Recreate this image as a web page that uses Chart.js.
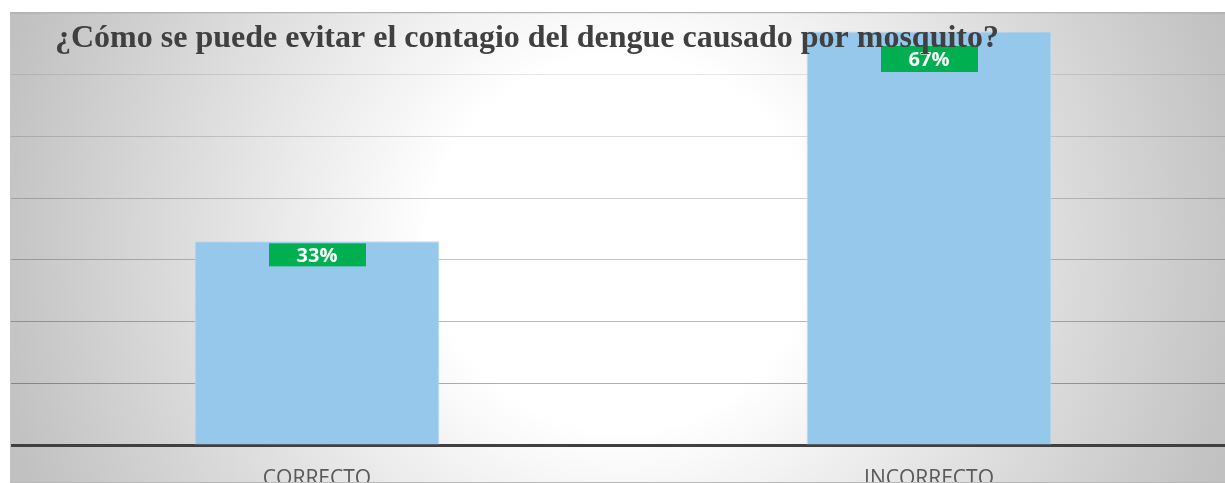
<!DOCTYPE html>
<html lang="es">
<head>
<meta charset="utf-8">
<title>Contagio del dengue</title>
<script src="https://cdn.jsdelivr.net/npm/chart.js@4/dist/chart.umd.min.js"></script>
<style>
  html, body { margin: 0; padding: 0; background: #fff; overflow: hidden; }
  body { width: 1225px; height: 483px; position: relative; }
  #frame {
    position: absolute; left: 10px; top: 12px; width: 1240px; height: 469px;
    border-top: 1px solid #b4b4b4; border-left: 1px solid #c4c4c4; border-bottom: 1px solid #b8b8b8;
    overflow: hidden;
    background: radial-gradient(ellipse 640px 620px at 610px 230px, #ffffff 0%, #ffffff 30%, #e2e2e2 62%, #c1c1c1 100%);
  }
  #chart { position: absolute; left: 0; top: 0; }
</style>
</head>
<body>
<div id="frame"><canvas id="chart" width="1224" height="492"></canvas></div>
<script>
(function () {
  "use strict";

  var TITLE = "¿Cómo se puede evitar el contagio del dengue causado por mosquito?";
  var categories = ["CORRECTO", "INCORRECTO"];
  var shares = [0.33, 0.67];
  var yTicks = [0, 0.1, 0.2, 0.3, 0.4, 0.5, 0.6, 0.7];

  function pct(v) {
    return Math.round(v * 100) + "%";
  }

  // green value tags sitting at the top of each bar
  // (the tall bar's tag is pushed down a bit so it clears the title)
  var valueTags = {
    id: "valueTags",
    afterDatasetsDraw: function (chart) {
      var ctx = chart.ctx;
      var meta = chart.getDatasetMeta(0);
      ctx.save();
      ctx.font = "bold 20px 'Open Sans', sans-serif";
      ctx.textAlign = "center";
      ctx.textBaseline = "middle";
      meta.data.forEach(function (bar, i) {
        var txt = pct(shares[i]);
        var w = ctx.measureText(txt).width + 56;
        var h = i === 1 ? 26 : 23;
        var top = bar.y + 2;
        if (top < 45) top = 33;
        ctx.fillStyle = "#00b050";
        ctx.fillRect(Math.round(bar.x - w / 2), top, Math.round(w), h);
        ctx.fillStyle = "#ffffff";
        ctx.fillText(txt, bar.x, top + h / 2 + 1);
      });
      ctx.restore();
    }
  };

  // title is painted over the plot, not in its own band
  var overlayTitle = {
    id: "overlayTitle",
    afterDraw: function (chart) {
      var ctx = chart.ctx;
      ctx.save();
      ctx.font = "bold 32px 'Liberation Serif', 'Times New Roman', serif";
      ctx.fillStyle = "#404040";
      ctx.textAlign = "left";
      ctx.textBaseline = "alphabetic";
      ctx.fillText(TITLE, 44, 34);
      ctx.restore();
    }
  };

  function gridColor(c) {
    var v = c.tick ? c.tick.value : 0;
    if (v <= 0.001) return "rgba(0,0,0,0)";
    // lines fade as they go up
    var a = 0.36 - v * 0.44;
    return "rgba(0,0,0," + Math.max(0.06, a).toFixed(3) + ")";
  }

  new Chart(document.getElementById("chart").getContext("2d"), {
    type: "bar",
    data: {
      labels: categories,
      datasets: [{
        data: shares,
        backgroundColor: "#95c8eb",
        borderColor: "#b9dbf2",
        borderWidth: 1,
        barPercentage: 0.4,
        categoryPercentage: 1
      }]
    },
    options: {
      responsive: false,
      animation: false,
      layout: { padding: 0 },
      plugins: { legend: { display: false }, tooltip: { enabled: false }, title: { display: false } },
      scales: {
        x: {
          grid: { display: false, drawTicks: false },
          border: { display: true, color: "#404040", width: 3 },
          ticks: { color: "#595959", padding: 21, font: { family: "'Open Sans', sans-serif", size: 21 } },
          afterFit: function (scale) { scale.height = 60; }
        },
        y: {
          min: 0,
          max: 0.7,
          afterBuildTicks: function (scale) {
            scale.ticks = yTicks.map(function (v) { return { value: v }; });
          },
          grid: { color: gridColor, lineWidth: 1, drawTicks: false, tickLength: 0 },
          border: { display: false },
          ticks: { display: false },
          afterFit: function (scale) { scale.width = 0; }
        }
      }
    },
    plugins: [valueTags, overlayTitle]
  });
})();
</script>
</body>
</html>
